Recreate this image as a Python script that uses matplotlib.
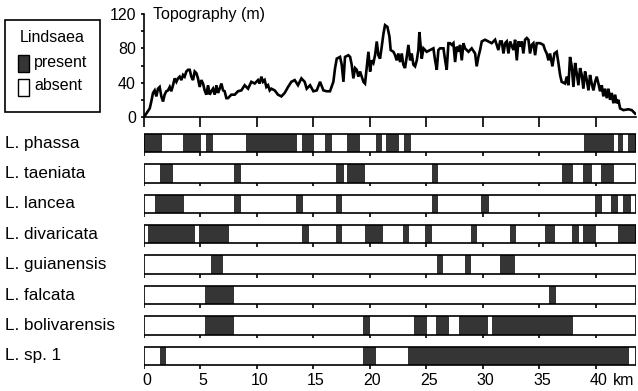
import matplotlib
matplotlib.use("Agg")
import matplotlib.pyplot as plt
import matplotlib.transforms as mtransforms
from matplotlib.patches import Rectangle

plt.rcParams['font.family'] = ['Liberation Sans', 'DejaVu Sans']
plt.rcParams['font.size'] = 11

# ---------------- data ----------------
topo_km = [0.04, 0.25, 0.55, 0.69, 0.84, 0.99, 1.14, 1.28, 1.43, 1.58, 1.73, 1.87, 2.02, 2.17, 2.32, 2.46,
           2.61, 2.76, 2.91, 3.05, 3.20, 3.35, 3.50, 3.64, 3.79, 3.94, 4.09, 4.23, 4.38, 4.53, 4.68, 4.82,
           4.97, 5.12, 5.27, 5.41, 5.56, 5.71, 5.86, 6.00, 6.15, 6.30, 6.45, 6.59, 6.74, 6.89, 7.04, 7.18,
           7.33, 7.48, 7.77, 8.07, 8.36, 8.66, 8.95, 9.25, 9.54, 9.84, 10.13, 10.28, 10.43, 10.58, 10.72,
           10.87, 11.02, 11.17, 11.31, 11.61, 11.90, 12.20, 12.49, 12.79, 13.08, 13.38, 13.67, 13.97, 14.26,
           14.44, 14.74, 15.03, 15.33, 15.62, 15.92, 16.21, 16.5, 16.8, 16.95, 17.1, 17.39, 17.54, 17.69,
           17.83, 18.13, 18.28, 18.42, 18.57, 18.72, 18.87, 19.01, 19.16, 19.46, 19.6, 19.75, 19.9, 20.05,
           20.19, 20.34, 20.49, 20.64, 20.78, 20.93, 21.08, 21.23, 21.37, 21.58, 21.76, 21.87, 22.11, 22.26,
           22.4, 22.55, 22.7, 22.85, 22.99, 23.14, 23.29, 23.44, 23.59, 23.73, 23.88, 24.03, 24.18, 24.32,
           24.41, 24.53, 24.62, 24.77, 25.06, 25.36, 25.65, 25.8, 25.95, 26.09, 26.24, 26.54, 26.69, 26.83,
           26.98, 27.13, 27.28, 27.42, 27.57, 27.72, 27.87, 28.01, 28.16, 28.31, 28.45, 28.75, 29.04, 29.34,
           29.48, 29.63, 29.78, 29.93, 30.22, 30.52, 30.81, 31.11, 31.4, 31.55, 31.7, 31.85, 32.0, 32.14,
           32.29, 32.44, 32.73, 32.88, 33.03, 33.17, 33.32, 33.47, 33.61, 33.76, 33.91, 34.06, 34.2, 34.35,
           34.5, 34.65, 34.79, 35.09, 35.38, 35.53, 35.68, 35.83, 35.97, 36.18, 36.36, 36.56, 36.71, 36.86,
           37.0, 37.3, 37.45, 37.6, 37.74, 37.89, 38.04, 38.19, 38.33, 38.48, 38.63, 38.78, 38.92, 39.07,
           39.22, 39.37, 39.51, 39.66, 39.81, 39.96, 40.1, 40.25, 40.4, 40.55, 40.69, 40.84, 40.99, 41.14,
           41.28, 41.43, 41.58, 41.73, 41.87, 42.02, 42.17, 42.46, 42.9, 43.2, 43.5]
topo_m = [0, 4, 10, 18, 28, 31, 24, 33, 35, 24, 18, 26, 30, 31, 35, 30,
          37, 45, 41, 45, 47, 43, 49, 47, 53, 55, 55, 47, 43, 53, 51, 45,
          35, 43, 39, 31, 26, 37, 26, 30, 33, 26, 37, 28, 33, 39, 31, 30,
          22, 22, 26, 26, 30, 31, 37, 33, 41, 39, 43, 39, 47, 41, 43,
          35, 37, 31, 33, 31, 26, 24, 28, 35, 41, 43, 37, 45, 41,
          33, 37, 30, 31, 41, 31, 30, 30, 41, 57, 68, 70, 61, 41,
          70, 72, 70, 61, 45, 57, 55, 47, 53, 41, 39, 57, 76, 53,
          66, 63, 72, 88, 72, 68, 82, 97, 107, 105, 94, 78, 76, 72,
          66, 74, 64, 74, 61, 57, 70, 84, 66, 74, 61, 59, 66, 78,
          99, 82, 68, 80, 76, 78, 80, 66, 55, 78, 80, 80, 66, 55,
          86, 86, 84, 86, 64, 82, 76, 84, 66, 86, 80, 76, 80, 74,
          59, 70, 78, 88, 90, 88, 86, 90, 78, 88, 88, 74, 86, 88,
          74, 88, 78, 90, 66, 88, 82, 88, 74, 90, 92, 90, 74, 84,
          86, 72, 86, 86, 84, 78, 74, 66, 74, 59, 74, 76, 63, 49,
          41, 39, 47, 37, 70, 59, 35, 63, 51, 37, 57, 49, 33, 53,
          43, 31, 49, 39, 31, 41, 47, 39, 30, 37, 24, 33, 22, 33,
          20, 28, 16, 26, 16, 20, 10, 8, 9, 8, 4]

species = ["L. phassa", "L. taeniata", "L. lancea", "L. divaricata",
           "L. guianensis", "L. falcata", "L. bolivarensis", "L. sp. 1"]

present_phassa = [(0, 1.6), (3.5, 5.1), (5.5, 6.15), (9.1, 13.6), (14.05, 15.05), (16.05, 16.65),
                  (18.0, 19.15), (20.6, 21.1), (21.5, 22.6), (23.05, 23.65), (39.0, 41.6),
                  (41.95, 42.45), (42.9, 43.55)]
present_taeniata = [(1.5, 2.6), (8.0, 8.6), (17.0, 17.7), (18.0, 19.6), (25.5, 26.1), (37.0, 38.0),
                    (38.9, 39.7), (40.5, 41.6)]
present_lancea = [(1.0, 3.6), (8.0, 8.6), (13.5, 14.1), (17.0, 17.6), (25.5, 26.1), (29.9, 30.6),
                  (39.95, 40.55), (41.4, 42.0), (42.45, 43.1)]
present_divaricata = [(0.4, 4.6), (4.95, 7.6), (14.0, 14.6), (17.0, 17.6), (19.6, 21.2), (23.0, 23.5),
                      (24.9, 25.5), (29.0, 29.5), (32.4, 33.0), (35.5, 36.4), (37.9, 38.5),
                      (38.9, 40.0), (41.95, 43.55)]
present_guianensis = [(6.0, 7.0), (25.95, 26.5), (28.45, 29.0), (31.5, 32.9)]
present_falcata = [(5.4, 8.05), (35.9, 36.5)]
present_bolivarensis = [(5.4, 8.05), (19.45, 20.0), (23.95, 25.05), (25.9, 27.05), (27.9, 30.5),
                        (30.8, 38.0)]
present_sp1 = [(1.45, 1.95), (19.4, 20.6), (23.4, 43.0)]

presence = [present_phassa, present_taeniata, present_lancea, present_divaricata,
            present_guianensis, present_falcata, present_bolivarensis, present_sp1]

transect_end = 43.55
km_ticks = [0, 5, 10, 15, 20, 25, 30, 35, 40]
km_labels = ["0", "5", "10", "15", "20", "25", "30", "35", "40 km"]
elev_ticks = [0, 20, 40, 60, 80, 100, 120]
elev_labels = ["0", "", "40", "", "80", "", "120"]
legend_title = "Lindsaea"
legend_labels = ["present", "absent"]

# ---------------- layout ----------------
W, H = 638, 391
fig = plt.figure(figsize=(W / 100, H / 100), dpi=100)

x0, x1 = 143.5, 635.7
def fx(px):
    return px / W
def fy(py):
    return 1 - py / H

present_color = '#353535'
lw = 1.2

# Topography
axt = fig.add_axes([fx(x0), fy(117), fx(x1) - fx(x0), fy(14) - fy(117)])
axt.plot(topo_km, topo_m, color='black', lw=1.9, solid_joinstyle='miter')
axt.set_xlim(0, transect_end)
axt.set_ylim(0, 120)
for s in ['top', 'right']:
    axt.spines[s].set_visible(False)
for s in ['left', 'bottom']:
    axt.spines[s].set_linewidth(lw)
axt.set_xticks(km_ticks)
axt.set_xticklabels([])
axt.tick_params(axis='x', direction='out', length=7.5, width=lw)
axt.set_yticks(elev_ticks)
axt.set_yticklabels(elev_labels)
axt.tick_params(axis='y', direction='out', length=2.5, width=lw, pad=3, labelsize=11.5)
axt.text(0.8, 120, "Topography (m)", ha='left', va='center', fontsize=11.5)

# Presence bars
row_top_px, row_bot_px = 128, 372
row0_px, row_step = 143, 30.4
axb = fig.add_axes([fx(x0), fy(row_bot_px), fx(x1) - fx(x0), fy(row_top_px) - fy(row_bot_px)])
axb.set_xlim(0, transect_end)
axb.set_ylim((row_bot_px - row0_px) / row_step, (row_top_px - row0_px) / row_step)
axb.axis('off')
bar_h = 0.61
tick_len = 0.12
tr = mtransforms.blended_transform_factory(fig.transFigure, axb.transData)
for i, (name, segs) in enumerate(zip(species, presence)):
    axb.barh(i, transect_end, left=0, height=bar_h, color='white', edgecolor='none', zorder=1)
    axb.barh(i, [b - a for a, b in segs], left=[a for a, b in segs], height=bar_h,
             color=present_color, edgecolor='none', zorder=2)
    axb.barh(i, transect_end, left=0, height=bar_h, color='none', edgecolor='black',
             linewidth=lw, zorder=3)
    axb.vlines(km_ticks, i + bar_h / 2, i + bar_h / 2 + tick_len, color='black', lw=lw, zorder=3)
    axb.text(5 / W, i, name, transform=tr, ha='left', va='center', fontsize=12.3)

# km labels below last row
label_y = len(species) - 1 + bar_h / 2 + 0.5
for t, lab in zip(km_ticks, km_labels):
    if lab.endswith("km"):
        num, unit = lab.split()
        axb.text(t + 0.3, label_y, num, ha='center', va='center', fontsize=11.5)
        axb.text(t + 1.55, label_y, unit, ha='left', va='center', fontsize=11.5)
    else:
        axb.text(t + 0.25, label_y, lab, ha='center', va='center', fontsize=11.5)

# Legend (drawn in figure pixel space)
axl = fig.add_axes([0, 0, 1, 1], zorder=5)
axl.set_xlim(0, W)
axl.set_ylim(H, 0)
axl.axis('off')
axl.patch.set_visible(False)
axl.add_patch(Rectangle((5, 20), 95, 92, facecolor='white', edgecolor='black', lw=lw))
axl.text(52, 37, legend_title, ha='center', va='center', fontsize=11.5)
axl.add_patch(Rectangle((18, 55), 11, 17, facecolor=present_color, edgecolor='black', lw=1.0))
axl.text(34, 63, legend_labels[0], ha='left', va='center', fontsize=11.5)
axl.add_patch(Rectangle((18, 79), 11, 17, facecolor='white', edgecolor='black', lw=1.0))
axl.text(34, 86, legend_labels[1], ha='left', va='center', fontsize=11.5)

fig.savefig("out.png", dpi=100)
